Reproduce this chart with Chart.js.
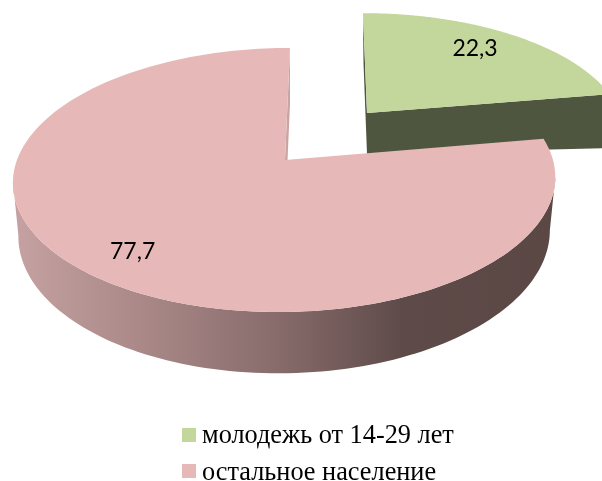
<!DOCTYPE html>
<html>
<head>
<meta charset="utf-8">
<style>
  html, body { margin: 0; padding: 0; background: #fff; }
  canvas { display: block; }
</style>
<script src="https://cdn.jsdelivr.net/npm/chart.js@4/dist/chart.umd.js"></script>
</head>
<body>
<canvas id="chart" width="602" height="481"></canvas>
<script>
const categories = ['молодежь от 14-29 лет', 'остальное население'];
const shares = [22.3, 77.7];
const valueLabels = ['22,3', '77,7'];

const faceColors = ['#c3d69b', '#e6b9b8'];
const wallColors = ['#4f5640', '#c9a4a3'];

// perspective of the tilted disc, one set per exploded slice
const KEEP = 0.1515;
const views = [
    { x: 367, y: 113, rx: 253, ry: 115, shear: 4.6, labelR: 0.72, labelDx: 2, labelDy: -6, sliver: -1.5 },
    { x: 285, y: 160, rx: 268, ry: 129, shear: -5.75, labelR: 0.81, labelDx: 6, labelDy: 3, sliver: 2.5 },
];
const DEPTH = 52;

// angle in the chart's own radians -> screen point on the tilted disc
function project(view, angle, r, rxScale = 1) {
    const t = angle + Math.PI / 2;
    const u = r * Math.sin(t);
    const v = -r * Math.cos(t);
    const s = 1 / (1 - KEEP * v);
    return {
        x: view.x + (view.rx * rxScale * u + view.shear * v) * s,
        y: view.y + view.ry * v * s,
        s: s,
    };
}

function poly(ctx, pts, fill) {
    ctx.beginPath();
    pts.forEach((p, i) => (i ? ctx.lineTo(p.x, p.y) : ctx.moveTo(p.x, p.y)));
    ctx.closePath();
    ctx.fillStyle = fill;
    ctx.fill();
}

function arcPoints(view, a, b, rxScale) {
    const pts = [];
    const steps = 180;
    for (let i = 0; i <= steps; i++) {
        pts.push(project(view, a + (b - a) * i / steps, 1, rxScale));
    }
    return pts;
}

// the part of a rim between its rightmost and leftmost points, i.e. the front
function frontOf(pts) {
    let left = 0;
    let right = 0;
    pts.forEach((p, i) => {
        if (p.x < pts[left].x) left = i;
        if (p.x > pts[right].x) right = i;
    });
    return pts.slice(right, left + 1);
}

const pie3d = {
    id: 'pie3d',
    beforeDatasetDraw(chart) {
        const ctx = chart.ctx;
        const arcs = chart.getDatasetMeta(0).data;
        arcs.forEach((arc, i) => {
            const view = views[i];
            const apex = { x: view.x, y: view.y };
            const rim = arcPoints(view, arc.startAngle, arc.endAngle, 1);

            if (i === 0) {
                // cut wall of the green slice, seen from the front
                const end = rim[rim.length - 1];
                poly(ctx, [apex, end, { x: end.x, y: end.y + 54 }, { x: apex.x, y: apex.y + 41 }], wallColors[0]);
                const top = rim[0];
                poly(ctx, [top, { x: (top.x + apex.x) / 2 + view.sliver, y: (top.y + apex.y) / 2 },
                    { x: apex.x, y: apex.y + 41 }, apex], wallColors[0]);
            } else {
                // outer side of the pink slice
                const low = arcPoints(view, arc.startAngle, arc.endAngle, 0.98)
                    .map(p => ({ x: p.x, y: p.y + DEPTH * p.s }));
                const grad = ctx.createLinearGradient(12, 0, 555, 0);
                grad.addColorStop(0, '#c6a2a2');
                grad.addColorStop(0.25, '#a98787');
                grad.addColorStop(0.5, '#866a6a');
                grad.addColorStop(0.72, '#5e4b49');
                grad.addColorStop(1, '#5b4845');
                poly(ctx, frontOf(rim).concat(frontOf(low).reverse()), grad);
                const top = rim[rim.length - 1];
                poly(ctx, [top, { x: (top.x + apex.x) / 2 + view.sliver, y: (top.y + apex.y) / 2 },
                    { x: apex.x + view.sliver, y: apex.y }, apex], wallColors[1]);
            }
            poly(ctx, [apex].concat(rim), faceColors[i]);
        });

        // values on the slices
        ctx.fillStyle = '#000';
        ctx.font = '23px Lato, "Liberation Sans", sans-serif';
        ctx.textAlign = 'center';
        ctx.textBaseline = 'middle';
        arcs.forEach((arc, i) => {
            const view = views[i];
            const p = project(view, (arc.startAngle + arc.endAngle) / 2, view.labelR);
            ctx.fillText(valueLabels[i], p.x + view.labelDx, p.y + view.labelDy);
        });

        // legend stacked under the pie
        ctx.textAlign = 'left';
        ctx.textBaseline = 'alphabetic';
        ctx.font = '26.3px "Liberation Serif", serif';
        categories.forEach((name, i) => {
            ctx.fillStyle = faceColors[i];
            ctx.fillRect(182, 428 + i * 36, 14, 14);
            ctx.fillStyle = '#000';
            ctx.fillText(name, 202, 443 + i * 37);
        });
        return false;
    },
};

new Chart(document.getElementById('chart'), {
    type: 'pie',
    data: {
        labels: categories,
        datasets: [{ data: shares, backgroundColor: faceColors, borderWidth: 0 }],
    },
    options: {
        responsive: false,
        animation: false,
        plugins: { legend: { display: false }, tooltip: { enabled: false } },
    },
    plugins: [pie3d],
});
</script>
</body>
</html>
